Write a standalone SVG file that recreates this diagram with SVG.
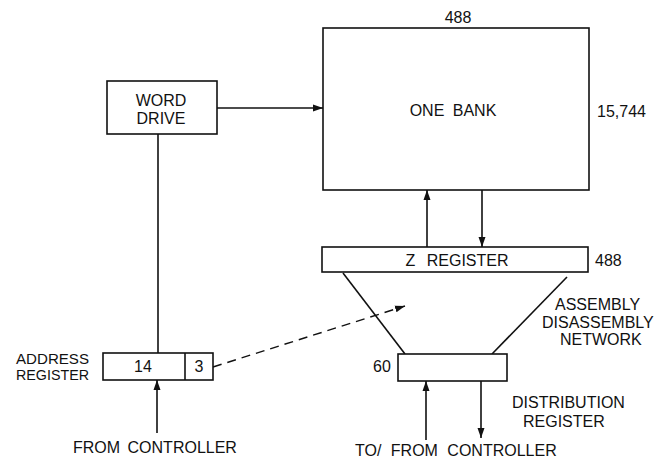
<svg xmlns="http://www.w3.org/2000/svg" width="655" height="459" viewBox="0 0 655 459">
<style>
  .box { fill: #fff; stroke: #111; stroke-width: 1.6; }
  .ln { fill: none; stroke: #111; stroke-width: 1.6; }
  .dash { fill: none; stroke: #111; stroke-width: 1.4; stroke-dasharray: 9 6; }
  text { font-family: "Liberation Sans", Arial, sans-serif; font-size: 16px; fill: #111; }
  .c { text-anchor: middle; }
  .sm { font-size: 14px; }
</style>
<defs>
  <marker id="ah" viewBox="0 0 10 10" refX="10" refY="5" markerWidth="10" markerHeight="10" markerUnits="userSpaceOnUse" orient="auto">
    <path d="M0,1.5 L10,5 L0,8.5 Z" fill="#111"/>
  </marker>
</defs>
<rect width="655" height="459" fill="#fff"/>

<g id="connectors">
  <line class="ln" x1="217" y1="108" x2="323" y2="108" marker-end="url(#ah)"/>
  <line class="ln" x1="158" y1="134" x2="158" y2="353"/>
  <line class="ln" x1="157" y1="433" x2="157" y2="380" marker-end="url(#ah)"/>
  <line class="ln" x1="427" y1="247" x2="427" y2="190" marker-end="url(#ah)"/>
  <line class="ln" x1="482" y1="190" x2="482" y2="247" marker-end="url(#ah)"/>
  <line class="ln" x1="343" y1="273" x2="405" y2="354"/>
  <line class="ln" x1="567" y1="277" x2="492" y2="354"/>
  <line class="ln" x1="426" y1="440" x2="426" y2="381" marker-end="url(#ah)"/>
  <line class="ln" x1="481" y1="381" x2="481" y2="438" marker-end="url(#ah)"/>
  <line class="dash" x1="213" y1="367" x2="405" y2="306" marker-end="url(#ah)"/>
</g>

<g id="one-bank">
  <rect class="box" x="323" y="28" width="266" height="162"/>
  <text class="c" x="453" y="116" word-spacing="4">ONE BANK</text>
  <text class="c" x="458" y="23">488</text>
  <text x="597" y="117">15,744</text>
</g>

<g id="word-drive">
  <rect class="box" x="107" y="81" width="110" height="53"/>
  <text class="c" x="161" y="106">WORD</text>
  <text class="c" x="161" y="124">DRIVE</text>
</g>

<g id="z-register">
  <rect class="box" x="322" y="247" width="266" height="25"/>
  <text class="c" x="457" y="266" word-spacing="7">Z REGISTER</text>
  <text x="595" y="266">488</text>
</g>

<g id="address-register">
  <rect class="box" x="103" y="353" width="110" height="27"/>
  <line class="ln" x1="185" y1="353" x2="185" y2="380"/>
  <text class="c" x="143" y="372">14</text>
  <text class="c" x="199" y="372">3</text>
  <text class="sm" x="16" y="364" textLength="73" lengthAdjust="spacingAndGlyphs">ADDRESS</text>
  <text class="sm" x="16" y="380" textLength="73" lengthAdjust="spacingAndGlyphs">REGISTER</text>
  <text x="73" y="453" word-spacing="3">FROM CONTROLLER</text>
</g>

<g id="distribution-register">
  <rect class="box" x="398" y="354" width="109" height="27"/>
  <text x="373" y="372">60</text>
  <text x="512" y="408">DISTRIBUTION</text>
  <text x="523" y="427">REGISTER</text>
  <text x="355" y="456" word-spacing="5">TO/ FROM CONTROLLER</text>
</g>

<g id="network-label">
  <text x="555" y="310">ASSEMBLY</text>
  <text x="542" y="328">DISASSEMBLY</text>
  <text x="560" y="345">NETWORK</text>
</g>
</svg>
